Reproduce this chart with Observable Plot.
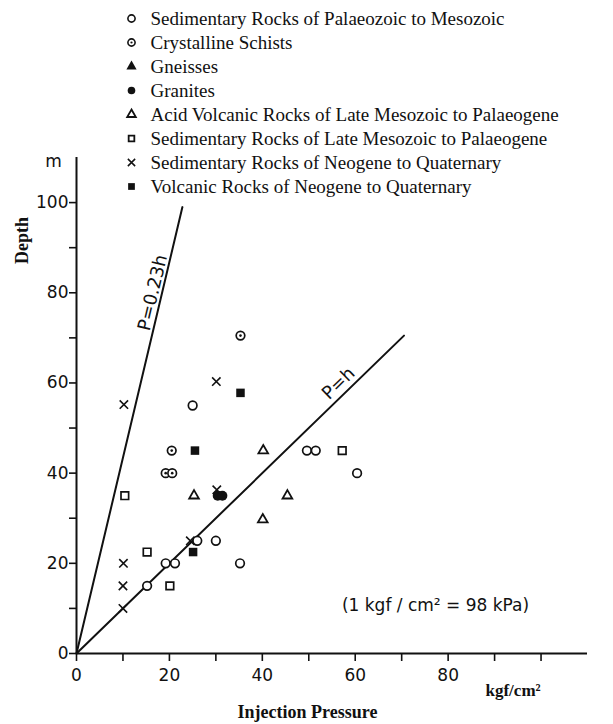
<!DOCTYPE html>
<html><head><meta charset="utf-8">
<script src="https://cdn.jsdelivr.net/npm/d3@7"></script>
<script src="https://cdn.jsdelivr.net/npm/@observablehq/plot@0.6"></script>
<style>
body{margin:0;background:#fff;}
#wrap{position:relative;width:613px;height:724px;}
#legend{position:absolute;left:0;top:0;}
#chart{position:absolute;left:0;top:0;}
</style></head><body>
<div id="wrap"><div id="chart"></div><div id="legend"></div></div>
<script>
// ---- data (Injection Pressure P [kgf/cm2], Depth h [m]) ----
const seriesNames = [
  "Sedimentary Rocks of Palaeozoic to Mesozoic",
  "Crystalline Schists",
  "Gneisses",
  "Granites",
  "Acid Volcanic Rocks of Late Mesozoic to Palaeogene",
  "Sedimentary Rocks of Late Mesozoic to Palaeogene",
  "Sedimentary Rocks of Neogene to Quaternary",
  "Volcanic Rocks of Neogene to Quaternary"
];
const sedPalaeoMeso = [[25,55],[49.6,45],[51.5,45],[60.4,40],[26,25],[30,25],[19.2,20],[21.2,20],[35.2,20],[15.2,15]];
const crystSchists = [[35.3,70.5],[20.5,45],[19.2,40],[20.6,40]];
const gneisses = [];
const granites = [[30.4,35],[31.4,35]];
const acidVolcanic = [[40.2,45],[25.3,35],[45.4,35],[40.1,29.7]];
const sedLateMeso = [[57.2,45],[10.4,35],[15.2,22.5],[20.1,15]];
const sedNeogene = [[30.1,60.3],[10.2,55.2],[30.2,36.3],[24.5,25],[10.1,20],[10,15],[10,10]];
const volcNeogene = [[35.3,57.8],[25.5,45],[25.1,22.5]];
const lineSteep = [[0,0],[22.8,99]];   // P = 0.23h
const lineEqual = [[0,0],[70.5,70.5]]; // P = h
const lineLabels = [["P=0.23h",16.4,80,-76.7],["P=h",56.4,59.9,-44.1]];
const xTicks = [0,10,20,30,40,50,60,70,80,90,100];
const xTickLabels = [0,20,40,60,80];
const yTicks = [0,10,20,30,40,50,60,70,80,90,100];
const yTickLabels = [0,20,40,60,80,100];

const pts = a => a.map(([P,h]) => ({P,h}));
const serif = "Liberation Serif, Times New Roman, serif";
const sans = "DejaVu Sans, sans-serif";

const chart = Plot.plot({
  width: 613, height: 724,
  marginLeft: 76, marginRight: 26, marginTop: 157, marginBottom: 71,
  x: {domain: [0,110]},
  y: {domain: [0,110]},
  style: {fontFamily: sans, fontSize: "17px", color: "#111", background: "transparent"},
  marks: [
    Plot.axisX({ticks: xTicks, tickSize: 8, tickPadding: 7, strokeWidth: 1.6,
      tickFormat: d => xTickLabels.includes(d) ? String(d) : "", label: null, fontSize: 17}),
    Plot.axisY({ticks: yTicks, tickSize: 7, tickPadding: 1, strokeWidth: 1.6,
      tickFormat: d => yTickLabels.includes(d) ? String(d) : "", label: null, fontSize: 17}),
    Plot.ruleY([0], {stroke: "#111", strokeWidth: 2}),
    Plot.ruleX([0], {stroke: "#111", strokeWidth: 2}),
    Plot.line(pts(lineSteep), {x: "P", y: "h", stroke: "#111", strokeWidth: 2}),
    Plot.line(pts(lineEqual), {x: "P", y: "h", stroke: "#111", strokeWidth: 2}),
    Plot.text(lineLabels, {x: d => d[1], y: d => d[2], text: d => d[0], rotate: d => d[3],
      fontSize: 18, fontFamily: sans, fill: "#111"}),
    // open circles
    Plot.dot(pts(sedPalaeoMeso), {x: "P", y: "h", r: 4.3, stroke: "#111", strokeWidth: 1.7, fill: "white"}),
    // crystalline schists (circle with centre dot)
    Plot.dot(pts(crystSchists), {x: "P", y: "h", r: 4.3, stroke: "#111", strokeWidth: 1.7, fill: "white"}),
    Plot.dot(pts(crystSchists), {x: "P", y: "h", r: 1.3, fill: "#111"}),
    // gneisses (filled triangles)
    Plot.dot(pts(gneisses), {x: "P", y: "h", r: 3.8, symbol: "triangle", fill: "#111"}),
    // granites
    Plot.dot(pts(granites), {x: "P", y: "h", r: 5, fill: "#111"}),
    // acid volcanic (open triangles)
    Plot.dot(pts(acidVolcanic), {x: "P", y: "h", r: 3.6, symbol: "triangle", stroke: "#111", strokeWidth: 1.8, fill: "white"}),
    // sed late mesozoic (open squares)
    Plot.dot(pts(sedLateMeso), {x: "P", y: "h", r: 4.3, symbol: "square", stroke: "#111", strokeWidth: 1.7, fill: "white"}),
    // sed neogene (times)
    Plot.dot(pts(sedNeogene), {x: "P", y: "h", r: 3.9, symbol: "times", stroke: "#111", strokeWidth: 1.6}),
    // volcanic neogene (filled squares)
    Plot.dot(pts(volcNeogene), {x: "P", y: "h", r: 4.8, symbol: "square", fill: "#111"}),
    // axis titles & note
    Plot.text(["Depth"], {text: d => d, frameAnchor: "top-left", dx: -54, dy: 83, rotate: -90,
      textAnchor: "middle", lineAnchor: "middle",
      fontFamily: serif, fontWeight: "bold", fontSize: 18, fill: "#111"}),
    Plot.text(["m"], {text: d => d, frameAnchor: "top-left", dx: -23, dy: 4,
      textAnchor: "middle", lineAnchor: "middle", fontSize: 17, fill: "#111"}),
    Plot.text(["kgf/cm²"], {text: d => d, frameAnchor: "bottom-left", dx: 409, dy: 37,
      textAnchor: "start", lineAnchor: "middle",
      fontFamily: serif, fontWeight: "bold", fontSize: 17, fill: "#111"}),
    Plot.text(["Injection Pressure"], {text: d => d, frameAnchor: "bottom-left", dx: 231, dy: 59,
      textAnchor: "middle", lineAnchor: "middle",
      fontFamily: serif, fontWeight: "bold", fontSize: 18, fill: "#111"}),
    Plot.text(["(1 kgf / cm² = 98 kPa)"], {text: d => d, frameAnchor: "bottom-left", dx: 359, dy: -48,
      textAnchor: "middle", lineAnchor: "middle", fontSize: 17, fill: "#111"})
  ]
});
document.getElementById("chart").appendChild(chart);

// ---- legend ----
const legendSymbols = ["circle","circle","triangle","circle","triangle","square","times","square"];
const legendFilled = [false,false,true,true,false,false,false,true];
const legendRows = seriesNames.map((name,i) => ({name, sym: legendSymbols[i], filled: legendFilled[i], dotted: i === 1}));
const legend = Plot.plot({
  width: 613, height: 200,
  marginLeft: 131, marginRight: 0, marginTop: 18, marginBottom: 14,
  y: {domain: seriesNames, type: "point", padding: 0, axis: null},
  style: {background: "transparent", color: "#111"},
  marks: [
    Plot.dot(legendRows.filter(d => !d.filled && d.sym === "circle"), {y: "name", frameAnchor: "left", symbol: "sym", r: 3.6, stroke: "#111", strokeWidth: 1.6, fill: "white"}),
    Plot.dot(legendRows.filter(d => !d.filled && d.sym !== "circle" && d.sym !== "times"), {y: "name", frameAnchor: "left", symbol: "sym", r: 3.2, stroke: "#111", strokeWidth: 1.8, fill: "white"}),
    Plot.dot(legendRows.filter(d => d.sym === "times"), {y: "name", frameAnchor: "left", symbol: "sym", r: 3.4, stroke: "#111", strokeWidth: 1.5}),
    Plot.dot(legendRows.filter(d => d.dotted), {y: "name", frameAnchor: "left", r: 1.1, fill: "#111"}),
    Plot.dot(legendRows.filter(d => d.filled), {y: "name", frameAnchor: "left", symbol: "sym", r: 3.8, fill: "#111"}),
    Plot.text(legendRows, {y: "name", text: "name", frameAnchor: "left", dx: 19, textAnchor: "start",
      fontFamily: serif, fontSize: 19, fill: "#111"})
  ]
});
document.getElementById("legend").appendChild(legend);
</script></body></html>
